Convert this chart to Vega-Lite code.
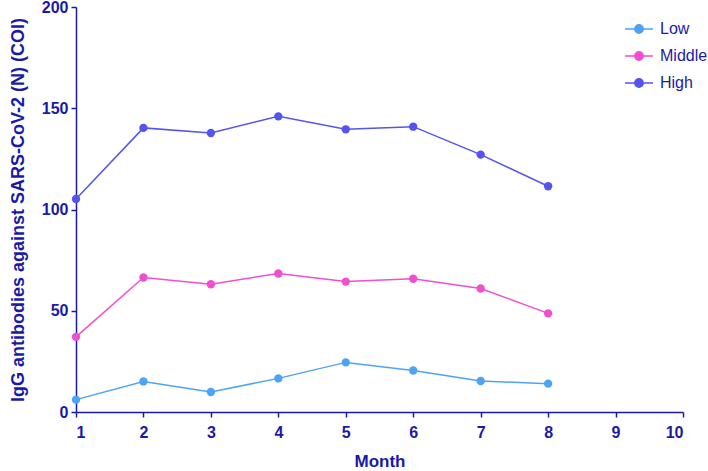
{
  "$schema": "https://vega.github.io/schema/vega-lite/v6.json",
  "autosize": "none",
  "width": 607,
  "height": 405,
  "padding": {"left": 76, "top": 7, "right": 25, "bottom": 59},
  "background": "white",
  "view": {"stroke": null},
  "data": {
    "values": [
      {"Month": 1, "Group": "Low", "COI": 6.1},
      {"Month": 2, "Group": "Low", "COI": 15.1},
      {"Month": 3, "Group": "Low", "COI": 9.9},
      {"Month": 4, "Group": "Low", "COI": 16.6},
      {"Month": 5, "Group": "Low", "COI": 24.5},
      {"Month": 6, "Group": "Low", "COI": 20.5},
      {"Month": 7, "Group": "Low", "COI": 15.3},
      {"Month": 8, "Group": "Low", "COI": 14.0},
      {"Month": 1, "Group": "Middle", "COI": 37.1},
      {"Month": 2, "Group": "Middle", "COI": 66.4},
      {"Month": 3, "Group": "Middle", "COI": 63.1},
      {"Month": 4, "Group": "Middle", "COI": 68.4},
      {"Month": 5, "Group": "Middle", "COI": 64.4},
      {"Month": 6, "Group": "Middle", "COI": 65.8},
      {"Month": 7, "Group": "Middle", "COI": 61.0},
      {"Month": 8, "Group": "Middle", "COI": 48.7},
      {"Month": 1, "Group": "High", "COI": 105.2},
      {"Month": 2, "Group": "High", "COI": 140.3},
      {"Month": 3, "Group": "High", "COI": 137.8},
      {"Month": 4, "Group": "High", "COI": 146.0},
      {"Month": 5, "Group": "High", "COI": 139.6},
      {"Month": 6, "Group": "High", "COI": 140.9},
      {"Month": 7, "Group": "High", "COI": 127.1},
      {"Month": 8, "Group": "High", "COI": 111.5}
    ]
  },
  "encoding": {
    "x": {
      "field": "Month", "type": "quantitative",
      "scale": {"domain": [1, 10], "nice": false, "zero": false},
      "axis": {
        "title": "Month", "values": [1,2,3,4,5,6,7,8,9,10], "grid": false,
        "domainColor": "#1a1aa8", "domainWidth": 1.5,
        "tickColor": "#1a1aa8", "tickWidth": 1.5, "tickSize": 5,
        "labelColor": "#1a1aa8", "labelFont": "Liberation Sans", "labelFontWeight": "bold", "labelFontSize": 16, "labelPadding": 7,
        "titleColor": "#1a1aa8", "titleFont": "Liberation Sans", "titleFontWeight": "bold", "titleFontSize": 17, "titlePadding": 13
      }
    },
    "y": {
      "field": "COI", "type": "quantitative",
      "scale": {"domain": [0, 200], "nice": false},
      "axis": {
        "title": "IgG antibodies against SARS-CoV-2 (N) (COI)", "values": [0, 50, 100, 150, 200], "grid": false,
        "domainColor": "#1a1aa8", "domainWidth": 1.5,
        "tickColor": "#1a1aa8", "tickWidth": 1.5, "tickSize": 5,
        "labelColor": "#1a1aa8", "labelFont": "Liberation Sans", "labelFontWeight": "bold", "labelFontSize": 16, "labelPadding": 3,
        "titleColor": "#1a1aa8", "titleFont": "Liberation Sans", "titleFontWeight": "bold", "titleFontSize": 18, "titlePadding": 14
      }
    },
    "color": {
      "field": "Group", "type": "nominal",
      "scale": {"domain": ["Low", "Middle", "High"], "range": ["#4da3f5", "#f04fd0", "#5454ee"]},
      "legend": {
        "title": null, "orient": "none", "legendX": 548, "legendY": 7,
        "symbolType": "M-1,0H1M0.3,0A0.3,0.3 0 1,1 -0.3,0A0.3,0.3 0 1,1 0.3,0Z",
        "symbolSize": 784, "symbolStrokeWidth": 1.5, "rowPadding": 4, "labelOffset": 6,
        "labelFont": "Liberation Sans", "labelFontSize": 16, "labelColor": "#1a1aa8",
        "encode": {"symbols": {"update": {"fill": {"scale": "color", "field": "value"}, "stroke": {"scale": "color", "field": "value"}, "opacity": {"value": 1}}}}
      }
    }
  },
  "layer": [
    {"mark": {"type": "line", "strokeWidth": 1.5}},
    {"mark": {"type": "circle", "size": 70, "opacity": 1}}
  ]
}
